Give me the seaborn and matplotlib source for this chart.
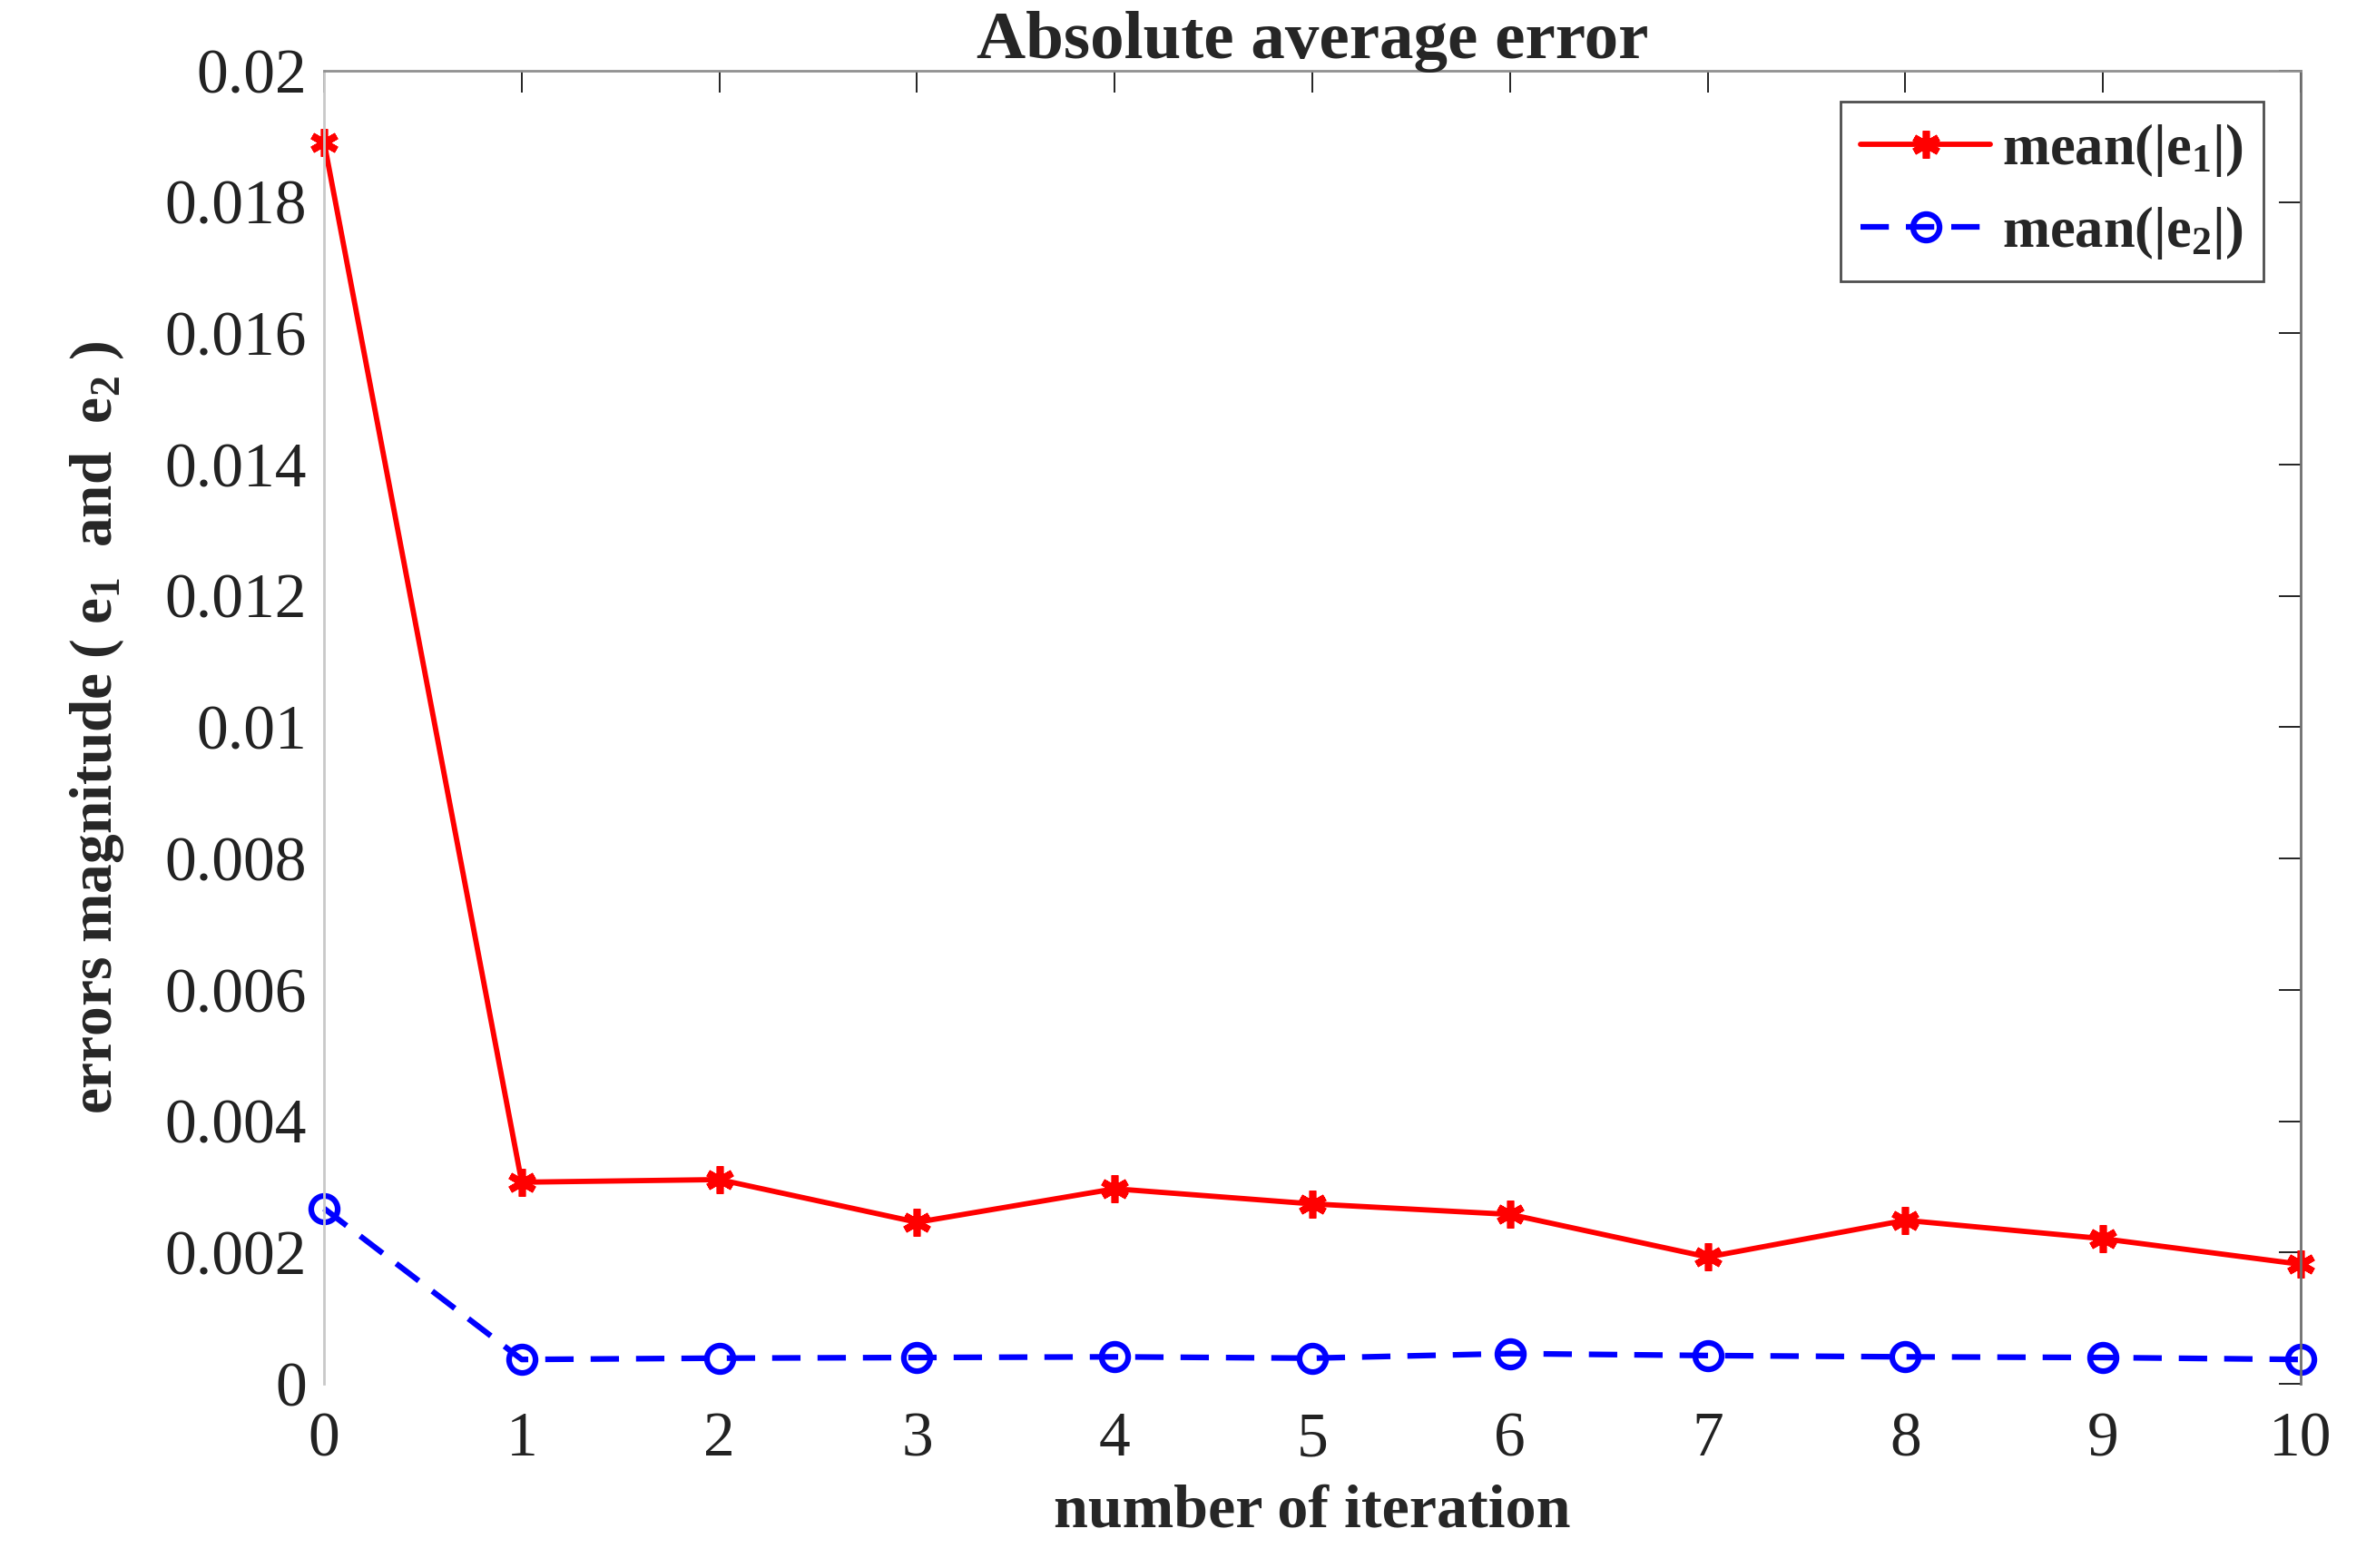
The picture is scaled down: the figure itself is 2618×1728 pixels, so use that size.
import numpy as np
import pandas as pd
import matplotlib
matplotlib.use("Agg")
import matplotlib.pyplot as plt
import seaborn as sns
from matplotlib.ticker import FuncFormatter

iterations = [0, 1, 2, 3, 4, 5, 6, 7, 8, 9, 10]
mean_e1 = [0.01891, 0.00307, 0.00311, 0.00246, 0.00297, 0.00274,
           0.00258, 0.00193, 0.00249, 0.00221, 0.00182]
mean_e2 = [0.00267, 0.00037, 0.00039, 0.00040, 0.00041, 0.00039,
           0.00046, 0.00043, 0.00041, 0.00040, 0.00037]
y_ticks = [0, 0.002, 0.004, 0.006, 0.008, 0.01, 0.012, 0.014, 0.016, 0.018, 0.02]

sns.set_theme(style="white")
plt.rcParams["font.family"] = ["Liberation Serif", "DejaVu Serif"]
plt.rcParams["mathtext.fontset"] = "custom"
plt.rcParams["mathtext.rm"] = "Liberation Serif"
plt.rcParams["mathtext.bf"] = "Liberation Serif:bold"
plt.rcParams["mathtext.it"] = "Liberation Serif:italic"

df = pd.DataFrame({"iteration": iterations, "e1": mean_e1, "e2": mean_e2})

fig = plt.figure(figsize=(26.18, 17.28), dpi=100)
ax = fig.add_axes([0.1364, 0.1175, 0.8319, 0.8374])

sns.lineplot(data=df, x="iteration", y="e1", ax=ax, color="red", linewidth=4.2,
             marker=(6, 2, 0), markersize=22, markeredgewidth=5.5, markeredgecolor="red",
             label=r"$\mathbf{mean(|e_1|)}$", clip_on=False)
sns.lineplot(data=df, x="iteration", y="e2", ax=ax, color="blue", linewidth=4.5,
             linestyle=(0, (5, 3)), marker="o", markersize=21, markeredgewidth=4.5,
             markerfacecolor="none", markeredgecolor="blue",
             label=r"$\mathbf{mean(|e_2|)}$", clip_on=False)

ax.set_xlim(0, 10)
ax.set_ylim(0, 0.02)
ax.set_xticks(iterations)
ax.set_yticks(y_ticks)
ax.yaxis.set_major_formatter(FuncFormatter(lambda v, p: f"{v:g}"))
ax.tick_params(axis="both", which="major", direction="in", length=17, width=1.4,
               labelsize=50, colors="#222222", top=True, right=True)
ax.tick_params(axis="x", pad=22)
ax.tick_params(axis="y", pad=14)

ax.spines["bottom"].set_visible(False)
ax.spines["left"].set_color("#c8c8c8")
ax.spines["top"].set_color("#909090")
ax.spines["right"].set_color("#707070")
for s in ["left", "top", "right"]:
    ax.spines[s].set_linewidth(2)

ax.set_title("Absolute average error", fontsize=54, fontweight="bold", pad=10)
ax.set_xlabel("number of iteration", fontsize=49, fontweight="bold", labelpad=12)
ax.set_ylabel(r"$\mathbf{errors\ magnitude\ (\ e_1\ \ and\ \ e_2\ )}$", fontsize=47, labelpad=30)

leg = ax.legend(loc="upper right", bbox_to_anchor=(0.981, 0.9765), borderaxespad=0,
                fontsize=45, frameon=True, fancybox=False, handlelength=2.3,
                handletextpad=0.2, borderpad=0.35, labelspacing=0.45)
leg.get_frame().set_edgecolor("#222222")
leg.get_frame().set_linewidth(2)

fig.savefig("out.png", dpi=100)
plt.close(fig)
